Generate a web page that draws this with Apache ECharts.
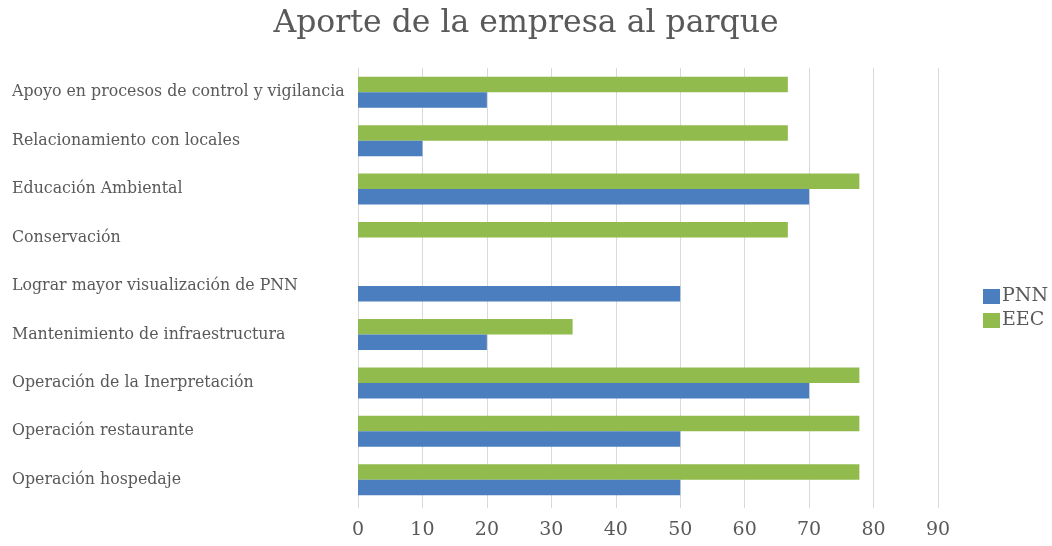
<!DOCTYPE html>
<html>
<head>
<meta charset="utf-8">
<script src="https://cdn.jsdelivr.net/npm/echarts@6/dist/echarts.min.js"></script>
<style>
  html, body { margin: 0; padding: 0; background: #fff; }
  #chart { width: 1052px; height: 546px; }
</style>
</head>
<body>
<div id="chart"></div>
<script>
// categorias (de abajo hacia arriba, como en Excel)
var categorias = [
    'Operación hospedaje',
    'Operación restaurante',
    'Operación de la Inerpretación',
    'Mantenimiento de infraestructura',
    'Lograr mayor visualización de PNN',
    'Conservación',
    'Educación Ambiental',
    'Relacionamiento con locales',
    'Apoyo en procesos de control y vigilancia'
];
var valoresPNN = [50, 50, 70, 20, 50, 0, 70, 10, 20];
var valoresEEC = [77.8, 77.8, 77.8, 33.3, 0, 66.7, 77.8, 66.7, 66.7];
var ticksX = [0, 10, 20, 30, 40, 50, 60, 70, 80, 90];

var fuente = '"DejaVu Serif", "Liberation Serif", serif';
var azul = '#4a7ebf';
var verde = '#92bb4e';

var chart = echarts.init(document.getElementById('chart'));
chart.setOption({
    textStyle: { fontFamily: fuente },
    title: {
        text: 'Aporte de la empresa al parque',
        left: 'center',
        top: 3,
        textStyle: {
            fontFamily: fuente,
            fontSize: 31.5,
            fontWeight: 'normal',
            color: '#595959'
        }
    },
    legend: {
        data: ['PNN', 'EEC'],
        orient: 'vertical',
        left: 978,
        top: 282,
        itemWidth: 17,
        itemHeight: 15,
        itemGap: 5,
        icon: 'rect',
        textStyle: { fontFamily: fuente, fontSize: 19, color: '#595959', padding: [0, 0, 0, -3] }
    },
    grid: {
        left: 358,
        right: 114,
        top: 68,
        bottom: 42,
        containLabel: false
    },
    xAxis: {
        type: 'value',
        min: ticksX[0],
        max: ticksX[ticksX.length - 1],
        interval: 10,
        axisLine: { show: false },
        axisTick: { show: true, length: 4, lineStyle: { color: '#d9d9d9' } },
        splitLine: { lineStyle: { color: '#d9d9d9', width: 1 } },
        axisLabel: {
            margin: 17,
            fontFamily: fuente,
            fontSize: 19,
            color: '#595959'
        }
    },
    yAxis: {
        type: 'category',
        data: categorias,
        axisLine: { lineStyle: { color: '#d9d9d9' } },
        axisTick: { show: false },
        axisLabel: {
            align: 'left',
            margin: 346,
            fontFamily: fuente,
            fontSize: 15.8,
            color: '#595959'
        }
    },
    series: [
        // EEC primero para que quede arriba en cada grupo
        {
            name: 'EEC',
            type: 'bar',
            barGap: '0%',
            barCategoryGap: '36%',
            itemStyle: { color: verde },
            data: valoresEEC
        },
        {
            name: 'PNN',
            type: 'bar',
            barGap: '0%',
            barCategoryGap: '36%',
            itemStyle: { color: azul },
            data: valoresPNN
        }
    ]
});
</script>
</body>
</html>
